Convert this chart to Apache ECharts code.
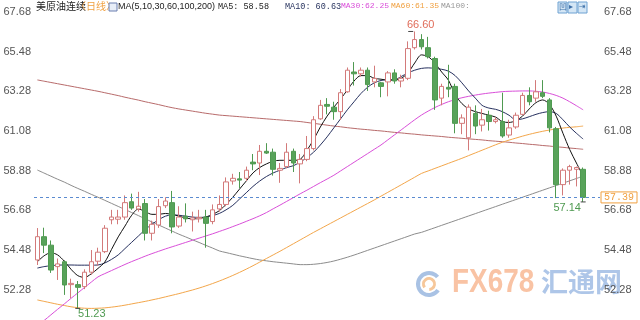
<!DOCTYPE html>
<html><head><meta charset="utf-8">
<script src="https://cdn.jsdelivr.net/npm/echarts@6/dist/echarts.min.js"></script>
<style>html,body{margin:0;padding:0;background:#fff}#c{width:640px;height:320px}</style>
</head><body><div id="c"></div>
<script>
// ---- data ----
const opens  = [53.92,55.21,54.74,53.55,53.82,52.55,52.55,52.44,53.24,53.85,54.38,56.15,56.18,56.30,57.15,56.75,57.05,55.40,55.86,56.93,57.10,55.80,56.35,56.15,56.20,56.30,56.05,56.75,57.00,58.30,58.42,58.45,59.35,59.30,59.95,59.90,58.90,59.10,59.95,59.25,59.50,60.10,61.75,62.55,62.40,62.15,63.25,64.35,64.25,64.45,63.80,63.75,63.80,64.30,63.85,64.00,65.70,66.15,65.70,65.10,62.90,63.50,63.55,61.50,60.70,62.05,61.40,61.95,61.60,61.60,60.85,61.30,62.00,63.05,62.90,63.20,62.80,61.20,58.10,58.90,58.95,58.95];
const closes = [55.21,54.74,53.36,53.70,52.53,52.62,52.40,53.24,53.82,54.35,55.68,56.30,56.30,57.10,56.80,56.90,55.40,55.90,56.88,57.19,55.75,56.30,56.20,56.25,56.28,55.95,56.70,57.00,58.25,58.45,58.35,58.90,59.25,59.95,59.85,58.95,59.00,59.90,59.30,59.50,60.10,61.70,62.50,62.45,62.15,63.20,64.45,64.25,64.45,63.65,64.00,63.55,64.30,63.85,64.00,65.65,66.15,65.75,65.20,62.80,63.55,63.40,61.50,61.80,62.40,61.35,61.70,61.60,61.70,60.80,61.25,61.95,63.05,62.70,63.25,63.00,61.25,58.10,58.90,59.10,59.05,57.39];
const lows   = [53.64,54.30,53.20,52.81,51.98,51.80,51.23,52.30,53.10,53.60,54.30,55.90,55.90,56.15,56.70,56.60,55.00,55.00,55.70,56.80,55.40,55.70,56.00,55.50,56.00,54.60,55.90,56.60,56.90,58.10,57.90,58.30,58.90,58.63,59.80,58.60,58.20,59.00,58.80,58.17,59.40,60.00,61.70,62.00,61.70,61.70,63.20,63.60,64.10,63.30,63.50,62.95,63.00,63.70,63.50,63.90,65.60,65.60,65.10,62.25,62.50,62.95,60.95,60.90,60.00,60.90,61.05,61.10,61.50,60.70,60.70,61.20,61.95,62.50,62.70,62.90,61.00,57.35,57.50,58.10,58.00,57.14];
const highs  = [55.69,55.71,55.00,54.00,53.90,52.88,52.75,53.40,54.47,54.60,55.85,56.70,56.70,57.50,57.60,57.70,57.30,56.10,57.30,57.40,57.75,56.90,57.06,56.60,56.70,56.70,57.00,57.50,58.50,58.70,58.80,59.10,59.80,60.30,60.40,60.10,59.30,60.40,60.10,59.80,60.80,61.90,62.80,62.90,62.70,63.40,64.60,64.90,64.60,64.60,64.70,63.80,64.40,64.50,64.20,66.05,66.60,66.45,66.30,65.20,63.70,64.75,63.70,62.00,62.55,62.50,62.30,62.20,61.85,63.20,61.70,62.10,63.20,63.50,63.90,63.90,62.90,61.30,59.00,59.20,59.10,59.05];

const ma5   = [53.82,54.15,54.32,54.20,53.85,53.40,53.05,52.95,53.15,53.45,53.80,54.50,55.20,55.80,56.40,56.75,56.60,56.45,56.45,56.50,56.45,56.35,56.25,56.20,56.22,56.30,56.45,56.65,57.00,57.40,57.85,58.30,58.75,59.05,59.25,59.40,59.45,59.45,59.45,59.50,60.00,60.60,61.30,61.90,62.40,62.85,63.35,63.85,64.15,64.15,64.00,63.95,63.90,63.90,64.00,64.30,64.85,65.30,65.20,64.85,64.35,63.90,63.10,62.60,62.30,62.15,62.05,61.95,61.85,61.60,61.55,61.65,61.90,62.30,62.65,62.80,62.55,61.90,60.95,60.05,59.30,58.58];
const ma10  = [53.47,53.55,53.60,53.63,53.64,53.64,53.63,53.63,53.63,53.64,53.75,53.95,54.20,54.55,54.90,55.25,55.60,55.90,56.15,56.35,56.42,56.40,56.35,56.30,56.28,56.30,56.38,56.50,56.70,56.95,57.30,57.65,58.00,58.30,58.55,58.75,58.90,59.05,59.15,59.35,59.60,59.90,60.30,60.75,61.25,61.75,62.25,62.70,63.15,63.50,63.75,63.88,63.92,63.92,64.10,64.30,64.45,64.55,64.58,64.55,64.50,64.40,64.15,63.75,63.30,62.90,62.50,62.35,62.28,62.15,61.95,61.70,61.75,61.87,62.00,62.10,62.15,62.05,61.70,61.30,60.95,60.63];
const ma30  = [50.25,50.56,50.87,51.18,51.48,51.79,52.09,52.39,52.69,52.98,53.16,53.33,53.50,53.67,53.83,53.98,54.13,54.27,54.40,54.53,54.65,54.77,54.89,55.01,55.13,55.25,55.37,55.50,55.63,55.77,55.91,56.06,56.21,56.37,56.55,56.76,56.96,57.17,57.38,57.59,57.79,58.00,58.21,58.41,58.62,58.86,59.10,59.34,59.58,59.82,60.06,60.30,60.58,60.86,61.14,61.42,61.70,61.96,62.18,62.38,62.55,62.70,62.82,62.92,63.00,63.07,63.13,63.18,63.22,63.26,63.28,63.29,63.30,63.30,63.28,63.24,63.16,63.05,62.90,62.70,62.48,62.25];
const ma60  = [51.70,51.62,51.54,51.46,51.39,51.32,51.27,51.24,51.23,51.24,51.26,51.30,51.35,51.41,51.48,51.55,51.62,51.70,51.78,51.87,51.96,52.05,52.15,52.25,52.36,52.48,52.61,52.75,52.90,53.06,53.23,53.41,53.60,53.80,54.00,54.20,54.40,54.61,54.82,55.03,55.24,55.45,55.65,55.85,56.05,56.25,56.45,56.65,56.85,57.05,57.25,57.46,57.67,57.88,58.09,58.30,58.51,58.72,58.86,59.00,59.14,59.28,59.42,59.56,59.71,59.86,60.01,60.16,60.31,60.45,60.57,60.68,60.79,60.89,60.98,61.06,61.13,61.19,61.24,61.28,61.31,61.35];
const ma100 = [58.91,58.74,58.57,58.40,58.24,58.06,57.89,57.73,57.56,57.40,57.23,57.06,56.89,56.72,56.55,56.38,56.20,56.03,55.86,55.69,55.52,55.35,55.20,55.04,54.89,54.73,54.58,54.42,54.33,54.24,54.15,54.07,53.99,53.92,53.87,53.82,53.78,53.74,53.70,53.66,53.66,53.68,53.72,53.78,53.86,53.96,54.07,54.19,54.32,54.45,54.58,54.71,54.84,54.97,55.10,55.23,55.36,55.45,55.58,55.71,55.84,55.97,56.10,56.23,56.36,56.49,56.62,56.75,56.88,57.01,57.14,57.27,57.40,57.53,57.66,57.79,57.92,58.05,58.18,58.31,58.44,58.57];
const ma200 = [63.91,63.84,63.77,63.70,63.63,63.56,63.49,63.42,63.35,63.28,63.20,63.12,63.04,62.95,62.87,62.79,62.70,62.62,62.54,62.45,62.37,62.30,62.24,62.18,62.12,62.06,62.01,61.96,61.93,61.90,61.87,61.84,61.81,61.78,61.75,61.72,61.69,61.66,61.63,61.60,61.55,61.50,61.45,61.40,61.35,61.31,61.26,61.22,61.18,61.15,61.11,61.08,61.04,61.00,60.97,60.93,60.90,60.86,60.83,60.80,60.77,60.73,60.70,60.67,60.64,60.61,60.58,60.54,60.51,60.48,60.45,60.41,60.38,60.34,60.31,60.27,60.24,60.20,60.17,60.13,60.10,60.06];

const yTicks = [52.28,54.48,56.68,58.88,61.08,63.28,65.48,67.68];
const lastPrice = 57.39;
const highMark = {idx: 56, value: 66.60};
const lowMarks = [{idx: 6, value: 51.23}, {idx: 81, value: 57.14}];
const slotCount = 84;

// ---- build ----
const categories = [];
for (let i = 0; i < slotCount; i++) categories.push(String(i + 1));
const kdata = opens.map((o, i) => [o, closes[i], lows[i], highs[i]]);

const chart = echarts.init(document.getElementById('c'), null, {renderer: 'canvas'});
const yMin = 50.587, yMax = 68.346;
const labelFont = {color: '#555', fontSize: 11, fontFamily: 'Liberation Sans, Arial, sans-serif'};

function yAxisDef(pos) {
  return {
    type: 'value', position: pos, min: yMin, max: yMax, scale: true,
    axisLine: {show: false}, axisTick: {show: false}, splitLine: {show: false},
    axisLabel: Object.assign({customValues: yTicks, margin: pos === 'left' ? 3 : 4,
      formatter: v => v.toFixed(2), showMinLabel: true, showMaxLabel: true}, labelFont)
  };
}

function lineSeries(name, data, color) {
  return {name, type: 'line', data, symbol: 'none', smooth: 0.3,
    lineStyle: {width: 1, color}, itemStyle: {color}, z: 3, silent: true};
}

const mono = 'Liberation Mono, DejaVu Sans Mono, monospace';
const graphic = [
  {type: 'text', left: 36, top: 1, style: {text: '美原油连续', fill: '#222', font: '10px "Noto Sans CJK SC"'}},
  {type: 'text', left: 76, top: 1, style: {text: '〈日线〉', fill: '#f0a040', font: '10px "Noto Sans CJK SC"'}},
  {type: 'rect', shape: {x: 109, y: 3, width: 8, height: 8}, style: {fill: '#e8eef8', stroke: '#6b7fb0', lineWidth: 1}},
  {type: 'text', left: 118, top: 2, style: {text: 'MA(5,10,30,60,100,200)', fill: '#222', font: '9px Liberation Sans'}},
  {type: 'text', left: 218, top: 2, style: {text: 'MA5: 58.58', fill: '#222', font: '8.5px ' + mono}},
  {type: 'text', left: 285, top: 2, style: {text: 'MA10: 60.63', fill: '#2a3560', font: '8.5px ' + mono}},
  {type: 'text', left: 341, top: 2, style: {text: 'MA30:62.25', fill: '#d94fd9', font: '8px ' + mono}},
  {type: 'text', left: 391, top: 2, style: {text: 'MA60:61.35', fill: '#f0a040', font: '8px ' + mono}},
  {type: 'text', left: 441, top: 2, style: {text: 'MA100:', fill: '#999', font: '8px ' + mono}},
  // top-right toolbar icons
  {type: 'rect', shape: {x: 558, y: 2, width: 9, height: 11}, style: {fill: '#d4e6f5', stroke: '#6fa2d2', lineWidth: 1}},
  {type: 'rect', shape: {x: 568, y: 2, width: 9, height: 11}, style: {fill: '#d4e6f5', stroke: '#6fa2d2', lineWidth: 1}},
  {type: 'rect', shape: {x: 578, y: 2, width: 9, height: 11}, style: {fill: '#d4e6f5', stroke: '#6fa2d2', lineWidth: 1}},
  {type: 'text', left: 559, top: 3, style: {text: '凹', fill: '#3c6fa8', font: '8px "Noto Sans CJK SC"'}},
  {type: 'text', left: 569, top: 3, style: {text: '▸', fill: '#3c6fa8', font: '8px "DejaVu Sans"'}},
  {type: 'text', left: 579, top: 3, style: {text: '⇥', fill: '#3c6fa8', font: '8px "DejaVu Sans"'}},
  // watermark
  {type: 'arc', z: -1, shape: {cx: 429, cy: 284, r: 11, startAngle: 0.6, endAngle: 5.6}, style: {stroke: '#a9c2e4', lineWidth: 4, fill: null}},
  {type: 'arc', z: -1, shape: {cx: 429, cy: 284, r: 5.5, startAngle: 2.5, endAngle: 7.8}, style: {stroke: '#f6c79a', lineWidth: 3, fill: null}},
  {type: 'text', z: -1, left: 452, top: 266, scaleX: 0.82, style: {text: 'FX678', font: 'bold 34px Liberation Sans', fill: '#f9c3a4'}},
  {type: 'text', z: -1, left: 541, top: 268, style: {text: '汇通网', font: 'bold 27px "Noto Sans CJK SC"', fill: '#aec6e8'}}
];

const option = {
  animation: false,
  backgroundColor: '#fff',
  grid: {left: 34, right: 40, top: 0, bottom: 0, containLabel: false},
  xAxis: {type: 'category', data: categories, boundaryGap: true, show: false},
  yAxis: [yAxisDef('left'), yAxisDef('right')],
  graphic,
  series: [
    lineSeries('MA200', ma200, '#b86b6b'),
    lineSeries('MA100', ma100, '#8c8c8c'),
    lineSeries('MA60', ma60, '#f3a64a'),
    lineSeries('MA30', ma30, '#d94fd9'),
    {
      name: 'K', type: 'candlestick', data: kdata, barWidth: 5, z: 4,
      itemStyle: {color: '#ffffff', color0: '#58a35a', borderColor: '#d37a7a', borderColor0: '#4f9a51', borderWidth: 1},
      markLine: {
        silent: true, symbol: ['none', 'none'],
        lineStyle: {type: [3, 3], color: '#5b8bd0', width: 1},
        label: {position: 'end', distance: 1, formatter: () => lastPrice.toFixed(2), color: '#f0a040',
          borderColor: '#f0a040', borderWidth: 1, padding: [1, 3, 0, 3], fontSize: 10, fontFamily: mono},
        data: [{yAxis: lastPrice}]
      },
      markPoint: {
        silent: true, symbol: 'rect', symbolSize: [5, 1], itemStyle: {color: '#444'},
        label: {fontSize: 11, fontFamily: 'Liberation Sans, Arial', formatter: p => p.value.toFixed(2)},
        data: [
          {coord: [highMark.idx, highMark.value], value: highMark.value, symbolOffset: [-4, 0],
            label: {position: 'top', distance: 0, offset: [10, 0], color: '#e06d5a'}},
          {coord: [lowMarks[0].idx, lowMarks[0].value], value: lowMarks[0].value,
            label: {position: 'bottom', distance: 0, offset: [14, 0], color: '#4f9a51'}},
          {coord: [lowMarks[1].idx, lowMarks[1].value], value: lowMarks[1].value,
            label: {position: 'bottom', distance: 0, offset: [-16, 0], color: '#4f9a51'}}
        ]
      }
    },
    lineSeries('MA10', ma10, '#26305e'),
    lineSeries('MA5', ma5, '#111111')
  ]
};
chart.setOption(option);
</script>
</body></html>
